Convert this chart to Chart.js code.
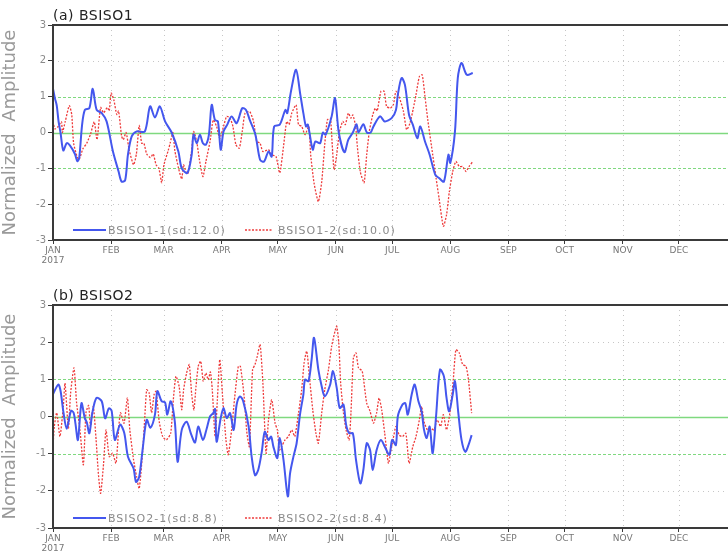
<!DOCTYPE html>
<html>
<head>
<meta charset="utf-8">
<script src="https://cdn.jsdelivr.net/npm/chart.js@4.4.1/dist/chart.umd.min.js"></script>
<style>
  html, body { margin: 0; padding: 0; background: #fff; overflow: hidden; }
  #wrap { position: relative; width: 728px; height: 557px; overflow: hidden; }
  canvas { position: absolute; left: 0; }
  #panelA { top: 0; }
  #panelB { top: 280px; }
</style>
</head>
<body>
<div id="wrap">
  <canvas id="panelA" width="760" height="278"></canvas>
  <canvas id="panelB" width="760" height="277"></canvas>
</div>
<script>
// x values are days counted from 1 Jan 2017 (day 0)
const monthStarts = [0, 31, 59, 90, 120, 151, 181, 212, 243, 273, 304, 334];
const monthNames = ['JAN', 'FEB', 'MAR', 'APR', 'MAY', 'JUN', 'JUL', 'AUG', 'SEP', 'OCT', 'NOV', 'DEC'];
const ampTicks = [-3, -2, -1, 0, 1, 2, 3];

// (a) BSISO1
const bsiso1Day1 = [0,1,2,3,4,5.5,7.3,9,11.7,13,14,15.5,17,19.4,21.2,23.3,26,28.6,32,35,36.6,38.5,40,42,44.7,49,51.8,54.4,57,59.8,63.3,66.9,68.7,71.7,74,75,76.7,78.4,80,81.6,83.2,84.7,86.4,88,89.5,91,93,95.3,98,101,103,105,108,110.5,112.6,115,116.7,118,121,124,125,127,129.7,132,133.6,135,136,138.6,140,142.5,144,145.5,148.7,150.5,152.5,155.5,157.6,160,162,163,165.6,167.5,169.5,171,174.5,177,180.7,183,184,186,187.8,190,192,194.4,196,198.5,201,204,206,208.6,211,212,214.5,216,218,220.8,224];
const bsiso1Amp1 = [1.22,0.96,0.75,0.3,0.0,-0.5,-0.3,-0.36,-0.6,-0.8,-0.7,0.2,0.63,0.68,1.22,0.63,0.54,0.31,-0.53,-1.09,-1.37,-1.33,-0.62,-0.11,0.03,0.03,0.73,0.42,0.73,0.31,0,-0.53,-1.0,-1.13,-0.62,-0.06,-0.3,-0.06,-0.3,-0.34,-0.06,0.77,0.35,0.31,-0.48,0.03,0.22,0.45,0.26,0.68,0.63,0.35,-0.06,-0.76,-0.81,-0.53,-0.67,0.17,0.22,0.63,0.54,1.15,1.75,1.05,0.54,0.17,0.22,-0.48,-0.25,-0.3,0,-0.06,0.45,0.96,0.0,-0.55,-0.2,0,0.23,0,0.23,0,0,0.17,0.45,0.31,0.4,0.63,1.05,1.52,1.33,0.49,0.22,-0.16,0.17,-0.25,-0.62,-1.18,-1.27,-1.37,-0.62,-0.85,0.03,1.52,1.94,1.61,1.66];

const bsiso1Day2 = [
  0,1,2.5,4.5,5,6.5,8.7,10,11,13,
  14,16,18,20,22,23.5,25.4,27,29,30,
  31,32.5,34,35,36.6,37.5,39,40.7,43,44.5,
  46,47.3,48.5,50,52,53.5,55,56.5,58,59.2,
  61.5,62.5,64,65,67,68.7,69.6,71,72,74,
  75,76.7,78,80,81.6,83.8,85.5,87.3,89,91,
  92.7,94.5,96,97.6,99.4,101,102.5,105,107,108.7,
  110.5,112,115,116.7,119,121,123,124.7,126,127.4,
  129.7,131,132.7,134.5,136.5,137.5,139.3,141.6,143.4,145,
  146.4,148,149,150,151.4,152.8,154.6,156,157.6,159,
  160,161.5,162.4,164,166,167.4,168.8,170.6,172,173,
  175,176.7,178,180,181.6,183,184.7,187,188.7,190.5,
  192.3,193.7,195.5,197,198.5,200,202,204.4,206,208.3,
  210,211.5,213.3,215,216.8,218.6,220.4,222,224];
const bsiso1Amp2 = [
  0.31,0.1,0.15,0.3,0.0,0.3,0.75,0.5,-0.3,-0.7,
  -0.75,-0.45,-0.3,-0.05,0.3,-0.2,0.7,0.55,0.7,0.6,
  1.1,0.9,0.5,0.6,-0.1,-0.2,0,-0.5,-0.9,-0.6,
  0.2,-0.3,-0.3,-0.6,-0.7,-0.6,-0.9,-1.0,-1.4,-0.9,
  -0.5,-0.3,0,-0.5,-1.0,-1.3,-0.9,-1.1,-1.15,-0.5,
  0.03,-0.25,-0.72,-1.23,-0.81,-0.25,0.35,0.17,-0.16,0.17,
  0.45,0.4,0.17,-0.34,-0.44,0.03,0.54,0.58,0.31,-0.25,
  -0.3,-0.53,-0.48,-0.62,-0.67,-1.13,-0.39,0.31,0.22,0.54,
  0.77,0.22,0.17,-0.06,0.17,-0.62,-1.41,-1.93,-1.37,-0.34,
  0.35,0.4,-0.34,-1.04,-0.62,0,0.31,0.22,0.54,0.4,
  0.49,0.17,-0.39,-1.1,-1.4,-0.62,0.03,0.49,0.68,0.6,
  1.15,1.15,0.73,0.68,0.77,1.15,1.0,0.59,0.08,0.26,
  0.68,1.05,1.56,1.61,1.0,0.35,-0.39,-1.27,-1.83,-2.62,
  -2.3,-1.65,-1.09,-0.81,-0.95,-0.95,-1.09,-0.95,-0.81];

// (b) BSISO2
const bsiso2Day1 = [
  0,2.8,4,5.5,7.3,9.6,11,12,13.3,15.2,
  17,18,19.4,21,23.2,26,27.8,29.8,31.3,33,
  35.8,38,40,43,44.3,46,48,50,52,54.4,
  55.7,58,59.8,61,62.8,65,66.5,68.7,71.3,73.8,
  75.8,77.5,80,82,83.8,85.5,86.5,87.3,89.5,91,
  92.7,94.5,96.4,98,99.8,101.5,104.4,106,107.8,109.5,
  111.4,113,115,116.4,117.6,119.7,121,123,125.3,126.5,
  128.3,130,131.8,133.6,134.5,136.3,138,139.3,141.6,143.4,
  145,147.8,149.4,151.4,153,155,156.4,158,160,161.7,
  164,165.6,167.4,169.2,170.6,172.7,175,177,179.5,181,
  183,184,186.5,188,189.3,191.4,193,195,196.7,198,
  199.4,201,202.6,204.4,206.5,208.6,210,211.4,213.3,214.5,
  216.3,218,220,221.7,223.4];
const bsiso2Amp1 = [
  0.6,0.86,0.7,0.14,-0.33,0.15,0.1,-0.2,-0.63,0.36,
  -0.05,-0.15,-0.45,0.1,0.5,0.41,-0.05,0.22,0.15,-0.63,
  -0.22,-0.44,-1.08,-1.4,-1.76,-1.62,-0.81,-0.09,-0.3,0.05,
  0.68,0.41,0.38,0.05,0.41,-0.14,-1.22,-0.36,-0.14,-0.49,
  -0.7,-0.27,-0.63,-0.33,0,0.09,0.2,-0.68,-0.04,0.23,
  -0.04,0.09,-0.36,0.32,0.54,0.41,-0.27,-1.08,-1.58,-1.44,
  -0.95,-0.41,-0.63,-0.54,-0.81,-1.12,-0.58,-1.17,-2.15,-1.53,
  -1.08,-0.72,0.05,0.59,0.99,0.95,1.53,2.12,1.26,0.81,
  0.54,0.84,1.22,0.77,0.23,0.32,-0.22,-0.45,-0.45,-1.17,
  -1.8,-1.44,-0.72,-0.9,-1.44,-0.9,-0.63,-0.81,-1.03,-0.63,
  -0.77,0,0.32,0.36,0.05,0.59,0.86,0.41,0.14,-0.36,
  -0.58,-0.27,-0.99,0,1.26,1.08,0.5,0.14,0.59,0.95,
  0.09,-0.63,-0.95,-0.77,-0.5];

const bsiso2Day2 = [
  0,0.7,2,3.7,5.5,6.4,8.2,9.4,11.2,12.6,
  14.4,16.2,17.6,19,20,21.5,23,24.2,25.4,27,
  28.3,30,31.8,33.6,35,36,37.9,39.7,41,43,
  44.6,46,47.9,49,50,51.3,52.6,54,55,56.7,
  58.5,60.5,62.8,64.2,65.6,67.3,68.7,69.7,71.3,72.7,
  74,75.2,76.3,77.5,78.8,80.2,81.6,82.8,84,85,
  86.5,87.7,89,90.5,92.3,93.5,95.3,97,98.9,100,
  102,103.4,104.8,106.5,107.8,109,110.5,112,113.7,115,
  116.7,118.5,119.7,120.8,122,123.8,125.6,127.4,129,131,
  132.7,134,135.4,136.8,138.6,140.3,141.6,143.4,145,147,
  148.7,150.5,151.4,152.5,153.5,155,156.4,158,159,160.3,
  161.7,163,165,167.4,169.2,171,172.7,174,175.4,177,
  179,180.4,181.6,183,184.8,186.5,188.3,190,192,193.7,
  195.5,196.7,198,199.8,201.5,203.3,205,206.8,208.3,210,
  211.8,213.6,215,216.8,218.6,220.4,221.7,223.4];
const bsiso2Amp2 = [
  -0.81,-0.27,0.1,-0.54,0.27,0.9,-0.32,0.63,1.31,0.36,
  -0.36,-1.3,0.1,0.3,-0.27,0.27,-0.63,-1.53,-2.07,-1.26,
  -0.36,-1.08,-0.99,-1.26,-0.36,0.1,-0.18,0.5,-0.36,-1.17,
  -1.62,-1.94,-0.9,0,0.72,0.63,0.1,0.6,0.68,-0.14,
  -0.54,-0.63,-0.45,0.45,1.08,0.81,0.18,0.72,1.17,1.4,
  0.6,0.18,0.8,1.35,1.49,0.95,1.17,0.99,1.2,0.72,
  -0.54,0.45,1.53,0.54,-0.63,-1.03,-0.36,0.54,1.35,1.35,
  0.54,-0.41,-0.81,1.26,1.4,1.62,1.94,0.9,-0.99,-0.09,
  0.45,-0.18,-0.36,-0.9,-0.81,-0.63,-0.54,-0.36,-0.54,0.09,
  0.72,1.44,1.76,1.08,0.18,-0.45,-0.72,0.1,0.72,1.26,
  1.89,2.3,2.43,1.98,0.9,0.1,-0.36,-0.63,0.1,1.58,
  1.71,1.31,1.22,0.36,0.14,-0.18,0.1,0.5,0.18,-0.45,
  -1.26,-0.9,-0.58,-0.27,-0.5,-0.54,-0.45,-1.26,-0.81,-0.54,
  -0.09,0.27,-0.14,-0.36,-0.32,-0.36,-0.09,-0.27,0.05,-0.36,
  0.1,0.99,1.8,1.71,1.4,1.35,0.99,0.09];

const BLUE = '#4457ee';
const RED = '#ee3b3b';
const GREEN = '#7fd97f';
const GREY_TEXT = '#8a8a8a';

Chart.defaults.font.family = '"DejaVu Sans", "Liberation Sans", sans-serif';

function points(days, amps) {
  return days.map((d, i) => ({ x: d, y: amps[i] }));
}

function strokeLine(ctx, x1, y1, x2, y2) {
  ctx.beginPath();
  ctx.moveTo(x1, y1);
  ctx.lineTo(x2, y2);
  ctx.stroke();
}

// grid, frame, panel title and the in-plot legend
const panelDecor = {
  id: 'panelDecor',
  beforeDatasetsDraw(chart) {
    const { ctx, chartArea: a, scales: { x, y } } = chart;
    ctx.save();
    ctx.lineWidth = 1;
    ctx.strokeStyle = '#c6c6c6';
    ctx.setLineDash([1, 4]);
    monthStarts.slice(1).forEach(d => {
      const px = Math.round(x.getPixelForValue(d)) + 0.5;
      strokeLine(ctx, px, a.top, px, a.bottom);
    });
    [-2, 2].forEach(v => {
      const py = Math.round(y.getPixelForValue(v)) + 0.5;
      strokeLine(ctx, a.left, py, a.right, py);
    });
    ctx.strokeStyle = GREEN;
    ctx.setLineDash([3, 2]);
    [-1, 1].forEach(v => {
      const py = Math.round(y.getPixelForValue(v)) + 0.5;
      strokeLine(ctx, a.left, py, a.right, py);
    });
    ctx.setLineDash([]);
    ctx.lineWidth = 1.3;
    const p0 = Math.round(y.getPixelForValue(0)) + 0.5;
    strokeLine(ctx, a.left, p0, a.right, p0);
    ctx.restore();
  },
  afterDraw(chart, args, opts) {
    const { ctx, chartArea: a } = chart;
    ctx.save();
    ctx.strokeStyle = '#3a3a3a';
    ctx.lineWidth = 2;
    ctx.strokeRect(a.left, a.top, a.right - a.left, a.bottom - a.top);

    ctx.fillStyle = '#222';
    ctx.font = '14px "DejaVu Sans", sans-serif';
    ctx.textBaseline = 'alphabetic';
    ctx.letterSpacing = '0.5px';
    ctx.fillText(opts.title, a.left, a.top - 5);

    const ly = a.bottom - 10;
    ctx.font = '11px "DejaVu Sans", sans-serif';
    ctx.letterSpacing = '1px';
    ctx.textBaseline = 'middle';
    chart.data.datasets.forEach((ds, i) => {
      const [s0, s1, tx] = opts.legendSlots[i];
      ctx.strokeStyle = ds.borderColor;
      ctx.lineWidth = ds.borderWidth;
      ctx.setLineDash(ds.borderDash || []);
      strokeLine(ctx, a.left + s0, ly, a.left + s1, ly);
      ctx.fillStyle = GREY_TEXT;
      ctx.fillText(ds.label, a.left + tx, ly + 1);
    });
    ctx.restore();
  }
};

function makePanel(canvasId, title, axisHeight, series) {
  return new Chart(document.getElementById(canvasId), {
    type: 'line',
    data: {
      datasets: [
        {
          label: series[0].label,
          data: points(series[0].days, series[0].amps),
          borderColor: BLUE,
          borderWidth: 2,
          tension: 0.3,
          pointRadius: 0,
          fill: false,
          order: 0
        },
        {
          label: series[1].label,
          data: points(series[1].days, series[1].amps),
          borderColor: RED,
          borderWidth: 1.3,
          borderDash: [2, 1.5],
          tension: 0.2,
          pointRadius: 0,
          fill: false,
          order: 1
        }
      ]
    },
    options: {
      responsive: false,
      animation: false,
      devicePixelRatio: 1,
      layout: { padding: { top: 25, right: 23, left: 0, bottom: 0 } },
      plugins: {
        legend: { display: false },
        tooltip: { enabled: false },
        panelDecor: {
          title: title,
          legendSlots: [[20, 53, 55], [192, 220, 225]]
        }
      },
      scales: {
        x: {
          type: 'linear',
          min: 0,
          max: 365,
          afterBuildTicks: s => { s.ticks = monthStarts.map(v => ({ value: v })); },
          afterFit: s => { s.height = axisHeight; },
          ticks: {
            autoSkip: false,
            maxRotation: 0,
            minRotation: 0,
            padding: 1,
            color: '#777',
            font: { size: 9, lineHeight: 1.15 },
            callback: v => {
              const i = monthStarts.indexOf(v);
              return i === 0 ? [monthNames[0], '2017'] : monthNames[i];
            }
          },
          grid: { drawOnChartArea: false, drawTicks: true, tickLength: 4, color: '#3a3a3a' },
          border: { display: false }
        },
        y: {
          min: -3,
          max: 3,
          afterBuildTicks: s => { s.ticks = ampTicks.map(v => ({ value: v })); },
          afterFit: s => { s.width = 53; },
          ticks: { color: GREY_TEXT, font: { size: 10 }, padding: 2 },
          grid: { drawOnChartArea: false, drawTicks: true, tickLength: 5, color: '#3a3a3a' },
          border: { display: false },
          title: {
            display: true,
            text: 'Normalized  Amplitude',
            color: '#9a9a9a',
            font: { size: 18 },
            padding: { top: 0, bottom: 0 }
          }
        }
      }
    },
    plugins: [panelDecor]
  });
}

makePanel('panelA', '(a) BSISO1', 38, [
  { label: 'BSISO1-1(sd:12.0)', days: bsiso1Day1, amps: bsiso1Amp1 },
  { label: 'BSISO1-2(sd:10.0)', days: bsiso1Day2, amps: bsiso1Amp2 }
]);

makePanel('panelB', '(b) BSISO2', 29, [
  { label: 'BSISO2-1(sd:8.8)', days: bsiso2Day1, amps: bsiso2Amp1 },
  { label: 'BSISO2-2(sd:8.4)', days: bsiso2Day2, amps: bsiso2Amp2 }
]);
</script>
</body>
</html>
